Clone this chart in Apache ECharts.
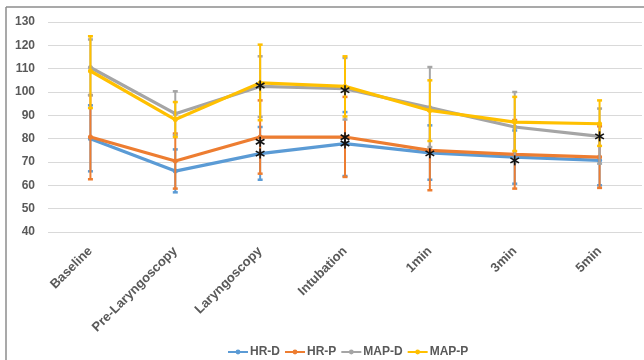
<!DOCTYPE html>
<html><head><meta charset="utf-8">
<script src="https://cdn.jsdelivr.net/npm/echarts@6/dist/echarts.min.js"></script>
<style>html,body{margin:0;padding:0;background:#fff}#c{width:644px;height:360px}</style>
</head><body><div id="c"></div>
<script>
var categories = ['Baseline','Pre-Laryngoscopy','Laryngoscopy','Intubation','1min','3min','5min'];
var yTicks = [40,50,60,70,80,90,100,110,120,130];

var hrD  = [80, 66.1, 73.6, 77.9, 73.9, 72.1, 70.7];
var hrDLow  = [66, 57, 62.4, 64, 62.4, 60.7, 60];
var hrDHigh = [94.3, 75.4, 85, 91.4, 85.7, 83.5, 81];

var hrP  = [80.7, 70.4, 80.7, 80.7, 75, 73.3, 72.1];
var hrPLow  = [62.6, 58.6, 65, 63.6, 57.9, 58.6, 58.9];
var hrPHigh = [98.7, 82.2, 96.4, 97.9, 92, 88, 85.3];

var mapD = [110.5, 90.7, 102.4, 101.4, 93.3, 85, 81];
var mapDLow  = [98.6, 81.4, 89.3, 88.2, 76.4, 70, 69.3];
var mapDHigh = [122.5, 100.3, 115.3, 114.6, 110.7, 100, 92.9];

var mapP = [109, 88.2, 103.9, 102.4, 92.1, 87.1, 86.4];
var mapPLow  = [93.1, 80.7, 87.9, 89.5, 79, 74.7, 76.9];
var mapPHigh = [123.9, 95.7, 120.3, 115.3, 105, 97.9, 96.4];

// significance asterisks: [category index, value]
var starIdx = [2, 2, 2, 3, 3, 3, 4, 5, 6];
var starVal = [102.8, 78.7, 73.6, 100.8, 80.6, 77.9, 73.7, 70.7, 81];

var seriesNames = ['HR-D','HR-P','MAP-D','MAP-P'];
var colors = ['#5B9BD5','#ED7D31','#A5A5A5','#FFC000'];
var means = [hrD, hrP, mapD, mapP];
var lows = [hrDLow, hrPLow, mapDLow, mapPLow];
var highs = [hrDHigh, hrPHigh, mapDHigh, mapPHigh];

var chart = echarts.init(document.getElementById('c'), null, {renderer:'canvas'});

function errSeries(i){
  var data = categories.map(function(c,k){ return [k, lows[i][k], highs[i][k]]; });
  return {
    type:'custom', name: seriesNames[i] + ' SD', z: 2 + i*2,
    data: data, silent:true, itemStyle:{color:colors[i]},
    renderItem: function(params, api){
      var lo = api.coord([api.value(0), api.value(1)]);
      var hi = api.coord([api.value(0), api.value(2)]);
      var w = 2.5;
      return {type:'group', children:[
        {type:'line', shape:{x1:lo[0],y1:lo[1],x2:hi[0],y2:hi[1]}, style:{stroke:colors[i],lineWidth:2}},
        {type:'line', shape:{x1:lo[0]-w,y1:lo[1],x2:lo[0]+w,y2:lo[1]}, style:{stroke:colors[i],lineWidth:2.5}},
        {type:'line', shape:{x1:hi[0]-w,y1:hi[1],x2:hi[0]+w,y2:hi[1]}, style:{stroke:colors[i],lineWidth:2.5}}
      ]};
    },
    encode:{x:0, y:[1,2]}
  };
}
function lineSeries(i){
  return {
    type:'line', name: seriesNames[i], data: means[i], z: 3 + i*2,
    symbol:'circle', symbolSize:5, showSymbol:true,
    lineStyle:{width:3.2, color:colors[i]},
    itemStyle:{color:colors[i]}, emphasis:{disabled:true}
  };
}
var series = [];
for (var i=0;i<4;i++){ series.push(errSeries(i)); series.push(lineSeries(i)); }
series.push({
  type:'custom', name:'sig', z: 20, silent:true,
  data: starIdx.map(function(c,k){ return [c, starVal[k]]; }),
  renderItem: function(params, api){
    var p = api.coord([api.value(0), api.value(1)]);
    var r = 5, ch = [];
    for (var a=0;a<3;a++){
      var ang = Math.PI/2 + a*Math.PI/3;
      ch.push({type:'line', shape:{x1:p[0]-r*Math.cos(ang), y1:p[1]-r*Math.sin(ang), x2:p[0]+r*Math.cos(ang), y2:p[1]+r*Math.sin(ang)}, style:{stroke:'#111', lineWidth:1.6}});
    }
    return {type:'group', children: ch};
  }
});

chart.setOption({
  animation:false,
  backgroundColor:'#fff',
  graphic:[
    {type:'line', shape:{x1:6,y1:7,x2:644,y2:7}, style:{stroke:'#8c8c8c', lineWidth:1.5}},
    {type:'line', shape:{x1:6,y1:7,x2:6,y2:360}, style:{stroke:'#8c8c8c', lineWidth:1.5}}
  ],
  grid:{left:48, right:2, top:22, bottom:128, containLabel:false},
  legend:{
    data: seriesNames, top:341, left:222, itemWidth:20, itemHeight:6, itemGap:4,
    textStyle:{color:'#595959', fontWeight:'bold', fontSize:12, fontFamily:'Liberation Sans, Arial', padding:[0,0,0,-3]},
    selectedMode:false
  },
  xAxis:{
    type:'category', data: categories, boundaryGap:true,
    axisLine:{show:false}, axisTick:{show:false},
    axisLabel:{rotate:45, margin:17, color:'#595959', fontWeight:'bold', fontSize:13, fontFamily:'Liberation Sans, Arial', interval:0}
  },
  yAxis:{
    type:'value', min: yTicks[0], max: yTicks[yTicks.length-1], interval:10,
    axisLine:{show:false}, axisTick:{show:false},
    splitLine:{lineStyle:{color:'#D9D9D9', width:1}},
    axisLabel:{color:'#595959', fontWeight:'bold', fontSize:12, fontFamily:'Liberation Sans, Arial', margin:13}
  },
  series: series
});
</script></body></html>
